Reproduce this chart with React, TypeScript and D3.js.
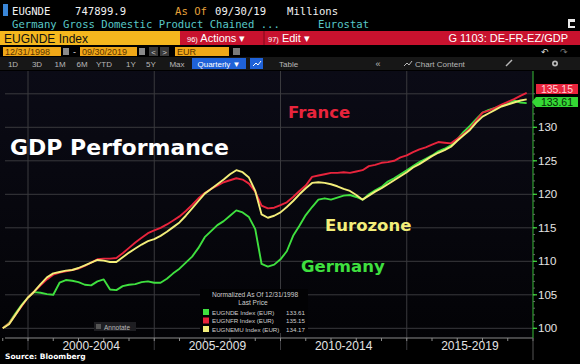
import React from 'react';
import * as d3 from 'd3';

const periods = ['2000-2004', '2005-2009', '2010-2014', '2015-2019'];
const periodBounds = [2000, 2005, 2010, 2015, 2020];
const yTicks = [100, 105, 110, 115, 120, 125, 130];
const gridValues = [100, 105, 110, 115, 120, 125, 130, 135];
const startYear = 1999; // 12/31/1998 base, quarterly

const germany = [
  100, 100.8, 102.2, 103.5, 104.6, 105.4, 105.3, 105.1, 105.0, 106.8,
  107.2, 107.1, 106.9, 106.5, 106.4, 107.0, 107.3, 105.8, 105.7, 106.3,
  106.5, 106.6, 106.9, 107.0, 106.8, 106.8, 107.4, 108.2, 108.9, 109.8,
  110.7, 112.0, 113.6, 114.5, 115.4, 116.0, 116.8, 117.6, 117.3, 116.6,
  114.8, 109.6, 109.2, 109.5, 110.3, 111.5, 113.8, 115.3, 116.9, 118.1,
  119.2, 119.4, 119.2, 119.5, 119.8, 119.9, 119.6, 119.2, 120.0, 120.6,
  121.1, 121.9, 122.4, 123.0, 123.6, 124.2, 124.8, 125.3, 125.8, 126.4,
  126.8, 127.3, 128.2, 129.3, 130.2, 131.2, 132.2, 132.6, 132.9, 133.2,
  133.5, 134.0, 133.7, 133.61,
];
const france = [
  100, 100.7, 102.0, 103.3, 104.6, 105.5, 106.4, 107.3, 108.0, 108.3,
  108.5, 108.7, 108.9, 109.3, 109.8, 110.3, 110.4, 110.4, 110.5, 111.2,
  112.0, 112.8, 113.5, 114.2, 114.6, 115.0, 115.5, 116.1, 116.7, 117.5,
  118.4, 119.4, 120.2, 120.8, 121.3, 121.8, 122.1, 122.4, 122.2, 121.6,
  120.4, 118.3, 117.9, 118.0, 118.4, 118.8, 119.6, 120.5, 121.3, 122.6,
  122.8, 123.0, 123.2, 123.2, 123.3, 123.2, 123.4, 123.6, 124.2, 124.4,
  124.7, 124.8, 125.0, 125.5, 125.8, 126.3, 126.7, 127.0, 127.4, 127.8,
  127.7, 127.6, 128.3, 129.0, 129.8, 131.0, 132.2, 132.5, 132.9, 133.4,
  133.8, 134.2, 134.7, 135.15,
];
const eurozone = [
  100, 100.6, 102.0, 103.4, 104.6, 105.5, 106.6, 107.6, 108.2, 108.4,
  108.6, 108.7, 109.0, 109.4, 109.8, 110.2, 110.1, 109.9, 109.9, 110.6,
  111.3, 111.9, 112.5, 113.0, 113.3, 113.8, 114.4, 115.1, 115.8, 116.8,
  117.9, 119.0, 120.1, 120.8, 121.5, 122.2, 123.0, 123.6, 123.3, 122.5,
  120.5, 117.0, 116.5, 116.8, 117.3, 118.1, 119.0, 120.0, 120.9, 121.7,
  121.8, 121.7, 121.5, 121.2, 120.8, 120.5, 119.9, 119.2, 119.8, 120.4,
  120.9, 121.5, 122.1, 122.7, 123.3, 124.0, 124.5, 125.1, 125.7, 126.2,
  126.6, 127.1, 128.0, 128.8, 129.6, 130.7, 131.6, 132.1, 132.6, 133.1,
  133.4, 133.7, 134.0, 134.17,
];

const legendNames = ['EUGNDE Index (EUR)', 'EUGNFR Index (EUR)', 'EUGNEMU Index (EUR)'];
const legendValues = ['133.61', '135.15', '134.17'];
const rangeButtons = ['1D', '3D', '1M', '6M', 'YTD', '1Y', '5Y', 'Max'];
const rangeButtonX = [13, 37, 60, 82, 104, 131, 151, 177];

const GREEN = '#3fe03f';
const RED = '#e8243c';
const YELLOW = '#f3ee7a';
const MONO = '"DejaVu Sans Mono", "Liberation Mono", monospace';
const SANS = '"Liberation Sans", Arial, sans-serif';
const BOLD = '"DejaVu Sans", Verdana, sans-serif';

export default function App() {
  const W = 580;
  const H = 364;
  const x = d3.scaleLinear().domain([1999, 2020]).range([2.75, 533]);
  const y = d3.scaleLinear().domain([100, 135]).range([328.3, 93.8]);
  const line = d3
    .line<number>()
    .x((_, i) => x(startYear + i / 4))
    .y((d) => y(d));
  const minorY = d3.range(100, 136, 1);
  const minorX = d3.range(1999, 2021, 1);
  const series = [
    { data: germany, color: GREEN },
    { data: france, color: RED },
    { data: eurozone, color: YELLOW },
  ];
  const legendColors = [GREEN, RED, YELLOW];

  return (
    <div style={{ position: 'fixed', left: 0, top: 0, width: W, height: H }}>
      <svg width={W} height={H} style={{ display: 'block', background: '#000' }}>
        <defs>
          <linearGradient id="plotbg" x1="0" y1="0" x2="0" y2="1">
            <stop offset="0" stopColor="#0b0b16" />
            <stop offset="1" stopColor="#030306" />
          </linearGradient>
        </defs>
        <rect x={0} y={0} width={W} height={H} fill="#000" />
        {/* Header row 1 */}
        <rect x={3} y={4} width={5} height={12} fill="#3a86d8" />
        <text x={12} y={15} fill="#f2f2f2" fontFamily={MONO} fontSize={10.6}>EUGNDE</text>
        <text x={75} y={15} fill="#f2f2f2" fontFamily={MONO} fontSize={10.6}>747899.9</text>
        <text x={175} y={15} fill="#e8a33a" fontFamily={MONO} fontSize={10.6}>As Of</text>
        <text x={215} y={15} fill="#f2f2f2" fontFamily={MONO} fontSize={10.6}>09/30/19</text>
        <text x={287} y={15} fill="#f2f2f2" fontFamily={MONO} fontSize={10.6}>Millions</text>
        {/* Header row 2 */}
        <text x={12} y={28} fill="#58c8c8" fontFamily={MONO} fontSize={10.6}>Germany Gross Domestic Product Chained ...</text>
        <text x={318} y={28} fill="#58c8c8" fontFamily={MONO} fontSize={10.6}>Eurostat</text>
        <rect x={568} y={19} width={7} height={9} fill="#e8e8e8" />
        <rect x={570} y={22} width={5} height={4} fill="#000" />
        {/* Header row 3 */}
        <rect x={0} y={31} width={180} height={14} fill="#f5b71e" />
        <text x={4} y={42.5} fill="#111" fontFamily={SANS} fontSize={12}>EUGNDE Index</text>
        <rect x={180} y={31} width={400} height={14} fill="#c8122e" />
        <line x1={264} y1={31} x2={264} y2={45} stroke="#8a0a1e" strokeWidth={1.2} />
        <text x={187} y={42} fill="#fff" fontFamily={SANS} fontSize={11}>
          <tspan fontSize={7.5}>96)</tspan> Actions ▾
        </text>
        <text x={268} y={42} fill="#fff" fontFamily={SANS} fontSize={11}>
          <tspan fontSize={7.5}>97)</tspan> Edit ▾
        </text>
        <text x={568} y={42} fill="#fff" fontFamily={SANS} fontSize={11} textAnchor="end">G 1103: DE-FR-EZ/GDP</text>
        {/* Header row 4 */}
        <rect x={3} y={47} width={58} height={9} fill="#f0a818" />
        <text x={5} y={55} fill="#5a3300" fontFamily={SANS} fontSize={9}>12/31/1998</text>
        <rect x={63} y={48} width={6} height={7} fill="#8a8a8a" />
        <text x={73} y={55} fill="#ddd" fontFamily={SANS} fontSize={9}>-</text>
        <rect x={80} y={47} width={57} height={9} fill="#f0a818" />
        <text x={82} y={55} fill="#5a3300" fontFamily={SANS} fontSize={9}>09/30/2019</text>
        <rect x={139} y={48} width={6} height={7} fill="#8a8a8a" />
        <rect x={149} y={47} width={9} height={9} fill="#3a3a3a" />
        <text x={153.5} y={55} fill="#ccc" fontFamily={SANS} fontSize={8} textAnchor="middle">&lt;</text>
        <rect x={160} y={47} width={9} height={9} fill="#3a3a3a" />
        <text x={164.5} y={55} fill="#ccc" fontFamily={SANS} fontSize={8} textAnchor="middle">&gt;</text>
        <rect x={175} y={47} width={54} height={9} fill="#f0a818" />
        <text x={177} y={55} fill="#5a3300" fontFamily={SANS} fontSize={9}>EUR</text>
        <rect x={233} y={48} width={7} height={7} fill="#7a7a7a" />
        <text x={545} y={55} fill="#ddd" fontFamily={SANS} fontSize={9} textAnchor="middle">↶</text>
        <text x={564} y={55} fill="#777" fontFamily={SANS} fontSize={9} textAnchor="middle">↷</text>
        {/* Header row 5 */}
        <rect x={0} y={57} width={W} height={13} fill="#171717" />
        {rangeButtons.map((b, i) => (
          <text key={b} x={rangeButtonX[i]} y={66.5} fill="#b8b8b8" fontFamily={SANS} fontSize={8} textAnchor="middle">{b}</text>
        ))}
        <rect x={192} y={58} width={54} height={11} fill="#1f62d8" />
        <text x={219} y={66.5} fill="#fff" fontFamily={SANS} fontSize={8} textAnchor="middle">Quarterly ▼</text>
        <rect x={250} y={58} width={13} height={11} fill="#1f62d8" />
        <path d="M253 66 L256 63 L258 65 L261 61" stroke="#fff" fill="none" strokeWidth={1} />
        <text x={279} y={66.5} fill="#b8b8b8" fontFamily={SANS} fontSize={8}>Table</text>
        <text x={378} y={66.5} fill="#b8b8b8" fontFamily={SANS} fontSize={9} textAnchor="middle">«</text>
        <path d="M404 66 L407 63 L409 65 L412 61" stroke="#b8b8b8" fill="none" strokeWidth={1} />
        <text x={415} y={66.5} fill="#b8b8b8" fontFamily={SANS} fontSize={8}>Chart Content</text>
        <path d="M506 66 L512 60" stroke="#b8b8b8" strokeWidth={1.5} />
        <circle cx={555} cy={63.5} r={3} fill="#b8b8b8" />
        <circle cx={555} cy={63.5} r={1.2} fill="#171717" />

        {/* Plot background */}
        <rect x={0} y={71} width={533} height={267} fill="url(#plotbg)" />
        {/* horizontal grid */}
        {gridValues.map((v) => (
          <line key={v} x1={5} x2={533} y1={y(v)} y2={y(v)} stroke="#3a3a3e" strokeWidth={1} />
        ))}
        {/* vertical grid */}
        {periodBounds.slice(0, 4).map((b) => (
          <line key={b} x1={x(b)} x2={x(b)} y1={71} y2={350} stroke="#3a3a3e" strokeWidth={1} />
        ))}
        {/* bottom axis */}
        <line x1={5} x2={533} y1={338} y2={338} stroke="#8a8a8a" strokeWidth={1} />
        {minorX.map((yr) => (
          <line key={yr} x1={x(yr)} x2={x(yr)} y1={338} y2={341} stroke="#8a8a8a" strokeWidth={1} />
        ))}
        {periods.map((p, i) => (
          <text key={p} x={(x(periodBounds[i]) + x(periodBounds[i + 1])) / 2} y={350} fill="#e4e4e4" fontFamily={SANS} fontSize={12} textAnchor="middle">{p}</text>
        ))}
        {/* right axis */}
        <line x1={533} x2={533} y1={71} y2={338} stroke="#2fa02f" strokeWidth={1.2} />
        <line x1={533} x2={533} y1={338} y2={360} stroke="#555" strokeWidth={1} />
        {minorY.map((v) => (
          <line key={v} x1={533} x2={535} y1={y(v)} y2={y(v)} stroke="#666" strokeWidth={1} />
        ))}
        {yTicks.map((v) => (
          <g key={v}>
            <line x1={533} x2={537} y1={y(v)} y2={y(v)} stroke={GREEN} strokeWidth={1.2} />
            <text x={538} y={y(v)} dy="0.36em" fill="#e4e4e4" fontFamily={SANS} fontSize={11.5}>{v}</text>
          </g>
        ))}

        {/* series */}
        {series.map((s, i) => (
          <path key={i} d={line(s.data) || ''} fill="none" stroke={s.color} strokeWidth={1.9} strokeLinejoin="round" />
        ))}

        {/* last price tags */}
        <rect x={536} y={84} width={42} height={10} fill={RED} />
        <text x={557} y={92.5} fill="#ffd0d6" fontFamily={SANS} fontSize={10.5} textAnchor="middle">{legendValues[1]}</text>
        <path d="M536 97 L578 97 L578 107 L536 107 L532 102 Z" fill="#35d835" />
        <text x={557} y={105.5} fill="#062a06" fontFamily={SANS} fontSize={10.5} textAnchor="middle">{legendValues[0]}</text>

        {/* labels */}
        <text x={10} y={155} fill="#fff" fontFamily={BOLD} fontWeight="bold" fontSize={22}>GDP Performance</text>
        <text x={288} y={118} fill={RED} fontFamily={BOLD} fontWeight="bold" fontSize={16.5}>France</text>
        <text x={325} y={231} fill={YELLOW} fontFamily={BOLD} fontWeight="bold" fontSize={16.5}>Eurozone</text>
        <text x={301} y={272} fill={GREEN} fontFamily={BOLD} fontWeight="bold" fontSize={16.5}>Germany</text>

        {/* legend */}
        <rect x={200} y={289} width={108} height={44} fill="#020204" />
        <text x={255} y={297} fill="#cfcfcf" fontFamily={SANS} fontSize={6.6} textAnchor="middle">Normalized As Of 12/31/1998</text>
        <text x={253} y={305} fill="#cfcfcf" fontFamily={SANS} fontSize={6.6} textAnchor="middle">Last Price</text>
        {legendNames.map((n, i) => (
          <g key={n}>
            <rect x={203} y={309 + i * 8.5} width={6} height={6} fill={legendColors[i]} />
            <text x={212} y={314.5 + i * 8.5} fill="#cfcfcf" fontFamily={SANS} fontSize={6.2}>{n}</text>
            <text x={305} y={314.5 + i * 8.5} fill="#cfcfcf" fontFamily={SANS} fontSize={6.2} textAnchor="end">{legendValues[i]}</text>
          </g>
        ))}

        {/* annotate button */}
        <rect x={94} y={322} width={42} height={9} fill="#1e1e22" />
        <rect x={96} y={324} width={5} height={5} fill="#555" />
        <text x={104} y={329.5} fill="#bbb" fontFamily={SANS} fontSize={6.5}>Annotate</text>

        <text x={5} y={359} fill="#fff" fontFamily={BOLD} fontWeight="bold" fontSize={7.5}>Source: Bloomberg</text>
      </svg>
    </div>
  );
}
